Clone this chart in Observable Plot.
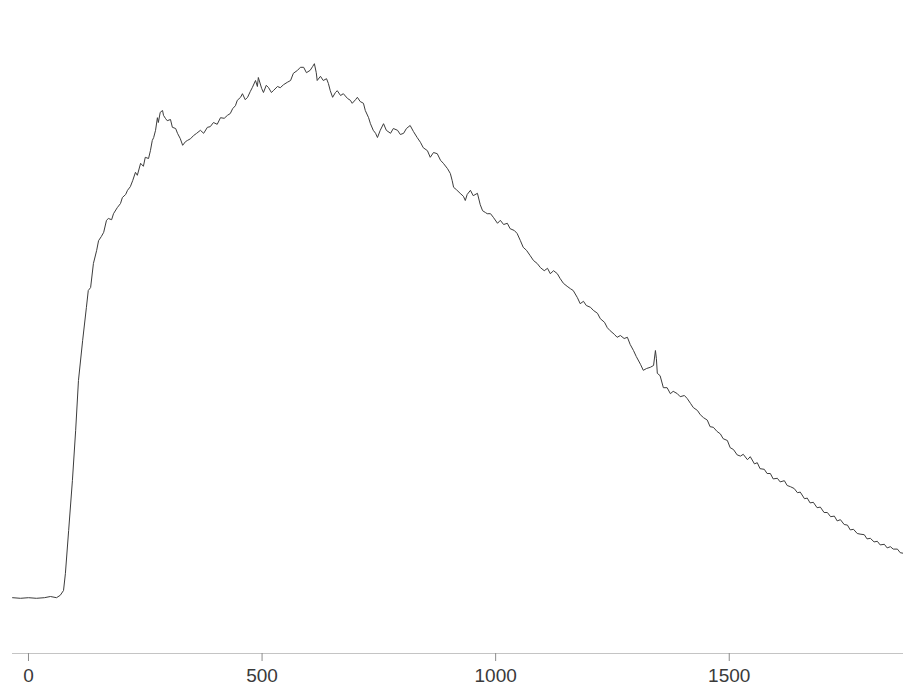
<!DOCTYPE html>
<html>
<head>
<meta charset="utf-8">
<script src="https://cdn.jsdelivr.net/npm/d3@7"></script>
<script src="https://cdn.jsdelivr.net/npm/@observablehq/plot@0.6"></script>
<style>
  html, body { margin: 0; padding: 0; background: #fff; }
  #chart svg { display: block; }
</style>
</head>
<body>
<div id="chart"></div>
<script>
// Signal trace (x in the axis units, y in arbitrary units)
const xValues = [
  -34, -17, 0, 17, 34, 47, 60, 68, 75, 79, 86, 94, 101, 107, 116, 124, 128, 133, 139, 146,
  150, 156, 161, 167, 171, 178, 182, 190, 197, 201, 208, 212, 218, 223, 229, 233, 240, 246, 250, 257,
  261, 265, 268, 272, 276, 278, 282, 287, 289, 293, 297, 304, 308, 315, 319, 325, 330, 336, 340, 347,
  353, 360, 368, 375, 383, 389, 396, 404, 411, 419, 426, 432, 437, 443, 447, 454, 458, 464, 469, 475,
  479, 486, 490, 492, 499, 503, 509, 514, 520, 524, 533, 539, 546, 554, 561, 567, 576, 582, 589, 595,
  603, 608, 612, 616, 618, 625, 631, 638, 642, 646, 651, 657, 661, 668, 674, 683, 689, 693, 700, 704,
  710, 717, 721, 728, 732, 738, 743, 747, 753, 760, 766, 775, 781, 790, 796, 803, 809, 817, 824, 832,
  839, 845, 854, 860, 867, 875, 882, 888, 897, 903, 907, 910, 916, 924, 931, 935, 939, 946, 952, 961,
  967, 972, 978, 982, 989, 995, 1004, 1010, 1017, 1025, 1031, 1040, 1046, 1053, 1059, 1066, 1074, 1081, 1089, 1096,
  1104, 1111, 1117, 1124, 1132, 1138, 1145, 1153, 1160, 1166, 1175, 1181, 1188, 1194, 1203, 1209, 1218, 1224, 1233, 1239,
  1245, 1254, 1260, 1267, 1275, 1282, 1288, 1295, 1301, 1310, 1316, 1323, 1331, 1338, 1342, 1344, 1346, 1352, 1359, 1367,
  1374, 1380, 1389, 1395, 1404, 1410, 1417, 1423, 1432, 1438, 1445, 1453, 1459, 1466, 1474, 1481, 1487, 1496, 1502, 1509,
  1517, 1524, 1530, 1539, 1545, 1554, 1560, 1566, 1575, 1581, 1588, 1594, 1603, 1609, 1618, 1624, 1631, 1639, 1646, 1652,
  1661, 1667, 1673, 1680, 1688, 1695, 1703, 1710, 1717, 1725, 1731, 1738, 1746, 1753, 1759, 1766, 1774, 1780, 1789, 1795,
  1802, 1810, 1817, 1823, 1832, 1838, 1845, 1851, 1860, 1866, 1873
];
const yValues = [
  9.3, 9.2, 9.3, 9.2, 9.3, 9.5, 9.3, 9.7, 10.5, 13.3, 20.5, 28.8, 37.2, 45.5, 52.2, 57.7, 60.5, 61.0, 65.0, 67.2,
  68.8, 69.5, 70.2, 72.2, 72.5, 72.3, 73.3, 74.3, 75.0, 76.0, 76.5, 77.2, 77.8, 78.8, 80.2, 79.7, 81.7, 81.2, 82.7, 82.5,
  83.8, 85.5, 86.0, 87.2, 89.3, 88.5, 90.2, 90.5, 89.7, 89.2, 88.8, 89.0, 87.7, 87.5, 86.7, 85.8, 84.7, 85.3, 85.5, 85.8,
  86.3, 86.7, 87.2, 86.7, 87.7, 87.8, 88.5, 88.2, 89.3, 89.2, 89.7, 90.0, 90.8, 91.3, 92.2, 92.7, 93.3, 92.3, 92.7, 93.7,
  94.3, 95.5, 94.5, 96.0, 94.2, 93.5, 94.7, 94.3, 93.5, 93.8, 94.5, 94.3, 94.8, 95.2, 95.5, 96.7, 97.2, 97.7, 97.7, 96.8,
  97.2, 97.8, 98.3, 96.8, 95.5, 96.2, 95.5, 95.8, 95.0, 93.8, 92.7, 93.5, 93.8, 93.0, 93.3, 92.5, 92.2, 91.7, 92.3, 92.7,
  92.0, 91.7, 90.5, 89.3, 88.3, 87.2, 86.7, 86.0, 87.2, 88.3, 87.2, 86.7, 87.5, 87.2, 86.5, 86.7, 87.5, 88.0, 87.0, 86.0,
  85.2, 84.3, 83.8, 82.7, 83.5, 83.3, 82.2, 81.7, 80.8, 80.0, 78.8, 77.7, 77.3, 76.7, 76.2, 75.5, 76.5, 77.2, 76.3, 76.7,
  74.8, 73.8, 73.5, 73.3, 73.3, 72.7, 71.7, 72.2, 71.5, 71.7, 70.8, 70.5, 70.0, 68.8, 67.7, 67.2, 66.3, 65.5, 65.0, 64.3,
  63.8, 64.2, 63.3, 63.8, 63.3, 62.5, 61.7, 61.2, 60.8, 60.5, 59.3, 58.3, 58.7, 58.0, 57.7, 57.2, 56.7, 55.8, 55.2, 54.3,
  53.8, 53.2, 52.7, 53.0, 52.5, 52.7, 51.5, 50.5, 49.5, 48.2, 47.2, 47.5, 47.7, 48.0, 50.5, 49.2, 46.7, 46.3, 44.3, 44.3,
  43.3, 43.7, 43.3, 42.8, 43.0, 42.5, 41.7, 41.0, 40.5, 39.8, 39.3, 38.9, 37.8, 37.7, 37.0, 36.6, 35.8, 35.5, 34.3, 34.0,
  33.1, 32.9, 33.2, 32.3, 32.8, 31.6, 31.8, 30.8, 30.7, 30.0, 30.0, 29.1, 29.2, 28.6, 28.8, 28.0, 27.8, 27.5, 26.8, 26.9,
  25.8, 25.9, 25.1, 25.2, 24.3, 24.4, 23.5, 23.5, 22.8, 22.9, 22.1, 22.3, 21.5, 21.4, 20.6, 20.7, 20.0, 19.9, 19.8, 19.1,
  19.2, 18.6, 18.7, 18.1, 18.2, 17.6, 17.8, 17.4, 17.4, 16.8, 16.7
];
const xTicks = [0, 500, 1000, 1500];

const data = xValues.map((x, i) => ({x, y: yValues[i]}));

const chart = Plot.plot({
  width: 903,
  height: 686,
  marginTop: 50,
  marginBottom: 33,
  marginLeft: 12,
  marginRight: 0,
  style: {fontFamily: "'Liberation Sans', Arial, sans-serif", background: "#fff"},
  x: {domain: [-34.2, 1873], label: null},
  y: {domain: [0, 100.5], axis: null},
  marks: [
    Plot.ruleY([0], {stroke: "#c4c4c4", strokeWidth: 1.2}),
    Plot.axisX({ticks: xTicks, tickSize: 8, tickPadding: 7, fontSize: 19, stroke: "#8c8c8c", fill: "#3a3a3a", label: null, tickFormat: d => String(d)}),
    Plot.line(data, {x: "x", y: "y", stroke: "#3c3c3c", strokeWidth: 1})
  ]
});
document.getElementById("chart").appendChild(chart);
</script>
</body>
</html>
